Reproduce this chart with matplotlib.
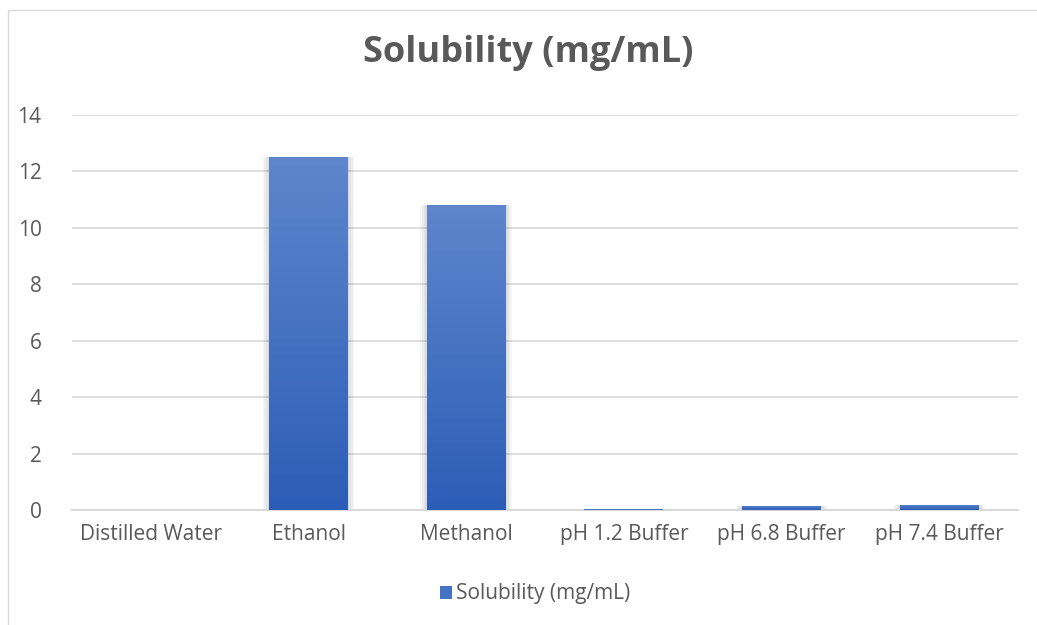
import numpy as np
import matplotlib.pyplot as plt
from matplotlib.patches import Rectangle, Patch
from matplotlib.colors import LinearSegmentedColormap

categories = ["Distilled Water", "Ethanol", "Methanol", "pH 1.2 Buffer", "pH 6.8 Buffer", "pH 7.4 Buffer"]
solubility = [0.005, 12.5, 10.8, 0.03, 0.15, 0.19]
yticks = [0, 2, 4, 6, 8, 10, 12, 14]

plt.rcParams['font.family'] = ['Open Sans', 'DejaVu Sans']
text_col = '#595959'

fig = plt.figure(figsize=(10.37, 6.25), dpi=100)
# outer chart frame (cut at right and bottom like the screenshot)
fig.patches.append(Rectangle((8 / 1037, -0.1), 1.2, 1 - 10 / 625 + 0.1, transform=fig.transFigure,
                             fill=False, edgecolor='#D9D9D9', linewidth=1.0))

ax = fig.add_axes([72 / 1037, 115 / 625, 946 / 1037, 395 / 625])

cmap = LinearSegmentedColormap.from_list('bar', ['#2C5DB6', '#5E86CC'])
grad = np.linspace(0, 1, 256).reshape(-1, 1)
bars = ax.bar(categories, solubility, width=0.5, color='none', zorder=3)
for b in bars:
    x0, w, h = b.get_x(), b.get_width(), b.get_height()
    # soft blurred shadow, a few layers
    for k in range(1, 5):
        d = 0.01 * k
        ax.add_patch(Rectangle((x0 - d, -0.05 * k), w + 2 * d, h + 0.05 * k, facecolor='#000000',
                               alpha=0.035, edgecolor='none', zorder=2))
    im = ax.imshow(grad, cmap=cmap, extent=(x0, x0 + w, 0, max(h, 1e-6)), origin='lower',
                   aspect='auto', zorder=3)
    im.set_clip_path(b)

ax.set_xlim(-0.5, len(categories) - 0.5)
ax.set_ylim(0, 14)
ax.set_yticks(yticks)
ax.yaxis.grid(True, color='#D9D9D9', linewidth=1.2, zorder=0)
ax.set_axisbelow(True)
for s in ['top', 'right', 'left']:
    ax.spines[s].set_visible(False)
ax.spines['bottom'].set_color('#D9D9D9')
ax.spines['bottom'].set_linewidth(1.5)
ax.tick_params(axis='both', length=0, labelsize=15, labelcolor=text_col)
ax.tick_params(axis='y', pad=22)
ax.tick_params(axis='x', pad=10)

fig.text(528 / 1037, 1 - 53 / 625, "Solubility (mg/mL)", ha='center', va='center',
         fontsize=26, fontweight='bold', color=text_col)

handle = Patch(facecolor='#4472C4', edgecolor='none')
fig.legend([handle], ["Solubility (mg/mL)"], loc='center', bbox_to_anchor=(535 / 1037, 1 - 594 / 625),
           frameon=False, fontsize=15, labelcolor=text_col, handlelength=0.6, handleheight=0.6,
           handletextpad=0.2)

fig.savefig('out.png', dpi=100)
